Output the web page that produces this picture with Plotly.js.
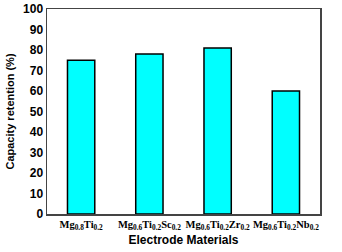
<!DOCTYPE html>
<html><head><meta charset="utf-8">
<script src="https://cdn.plot.ly/plotly-3.0.1.min.js"></script>
<style>html,body{margin:0;padding:0;background:#fff;}#c{width:342px;height:252px;}</style>
</head><body><div id="c"></div>
<script>
const categories = ["Mg<sub>0.8</sub>Ti<sub>0.2</sub>", "Mg<sub>0.6</sub>Ti<sub>0.2</sub>Sc<sub>0.2</sub>", "Mg<sub>0.6</sub>Ti<sub>0.2</sub>Zr<sub>0.2</sub>", "Mg<sub>0.6</sub>Ti<sub>0.2</sub>Nb<sub>0.2</sub>"];
const retention = [75, 78, 81, 60];
const yTicks = [0, 10, 20, 30, 40, 50, 60, 70, 80, 90, 100];

Plotly.newPlot('c', [{
  type: 'bar', x: categories, y: retention,
  marker: {color: '#00FFFF', line: {color: '#000', width: 1.5}},
  hoverinfo: 'none'
}], {
  width: 342, height: 252,
  margin: {l: 47, r: 22, t: 9, b: 38},
  paper_bgcolor: '#fff', plot_bgcolor: '#fff',
  bargap: 0.6,
  showlegend: false,
  xaxis: {
    showline: true, mirror: true, linecolor: '#444', linewidth: 1.5,
    ticks: '', showgrid: false, tickangle: 0, automargin: false,
    tickfont: {family: 'Liberation Serif', size: 10.5, color: '#000', weight: 'bold'},
    title: {text: '<b>Electrode Materials</b>', font: {family: 'Liberation Sans', size: 12, color: '#000'}, standoff: 4}
  },
  yaxis: {
    range: [0, 100], tickvals: yTicks, ticktext: yTicks.map(v => '<b>' + v + '</b>'),
    showline: true, mirror: true, linecolor: '#444', linewidth: 1.5,
    ticks: '', showgrid: false, zeroline: false,
    tickfont: {family: 'Liberation Sans', size: 12, color: '#000'},
    title: {text: '<b>Capacity retention (%)</b>', font: {family: 'Liberation Sans', size: 11, color: '#000'}, standoff: 6}
  }
}, {staticPlot: true});
</script></body></html>
